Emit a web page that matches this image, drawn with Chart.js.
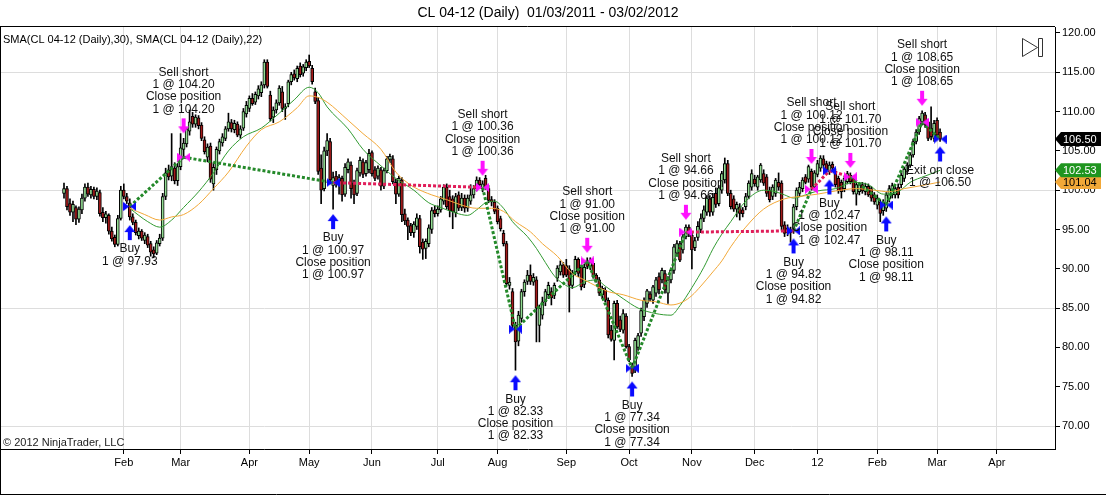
<!DOCTYPE html>
<html>
<head>
<meta charset="utf-8">
<title>CL 04-12 (Daily)</title>
<script src="https://cdn.jsdelivr.net/npm/chart.js@4.4.0/dist/chart.umd.min.js"></script>
<style>
  html, body { margin: 0; padding: 0; background: #fff; }
  #wrap { width: 1106px; height: 495px; }
</style>
</head>
<body>
<div id="wrap"><canvas id="chart" width="1106" height="495"></canvas></div>
<script>
// CL 04-12 daily bars, index 0 = 01/03/2011, last = 03/02/2012
const opens = [
  99.6,100.2,98.3,97.2,97.8,96.3,97.5,99.0,100.4,99.4,
  100.1,99.2,99.7,97.2,96.5,96.8,94.8,94.0,93.1,96.4,
  100.0,99.2,98.4,96.6,95.9,94.2,94.8,93.6,94.1,93.2,
  92.4,92.0,93.2,93.9,99.2,102.6,101.8,102.8,101.2,103.0,
  105.2,105.9,107.5,109.4,108.4,109.2,108.3,106.4,104.2,105.6,
  100.8,102.6,105.0,106.0,106.6,107.8,108.6,107.7,108.4,107.0,
  107.9,109.7,110.4,111.7,111.2,112.0,112.4,113.4,116.3,112.1,
  109.3,110.2,111.1,112.5,110.4,111.0,113.8,114.8,114.2,115.8,
  114.9,115.6,116.4,115.5,112.5,111.4,102.8,100.2,105.0,106.2,
  100.6,101.8,100.9,101.5,99.5,102.6,103.2,100.9,99.6,102.2,
  103.6,102.1,102.6,104.8,102.6,101.8,102.6,100.5,102.5,103.9,
  104.0,101.0,99.5,101.3,97.0,96.2,95.5,94.6,95.4,96.4,
  93.4,92.6,93.2,95.0,97.5,97.0,97.5,98.6,100.4,99.2,
  98.9,97.1,99.4,97.8,99.0,97.7,98.6,99.4,100.2,101.3,
  100.2,101.5,100.2,98.8,98.5,97.7,96.4,94.5,93.2,87.9,
  87.1,82.8,80.8,83.7,87.1,88.4,89.2,88.3,88.6,82.8,
  84.1,85.8,86.7,87.1,86.6,88.8,89.6,90.5,90.4,90.0,
  87.9,89.6,91.2,90.2,88.0,91.0,90.3,90.7,89.2,88.6,
  86.7,87.3,86.0,82.2,80.9,85.6,83.5,82.2,84.0,80.1,
  77.6,77.5,80.0,81.8,83.9,85.6,86.8,86.0,86.9,89.0,
  88.6,89.4,86.9,88.6,89.8,92.0,93.2,92.4,94.1,95.3,
  94.3,92.7,94.0,95.0,96.4,97.2,98.9,97.2,99.6,98.3,
  100.0,101.3,103.4,99.6,98.9,97.6,97.9,97.5,97.9,99.2,
  100.4,101.4,100.4,101.3,102.1,101.7,100.0,99.2,99.6,101.0,
  100.9,95.6,94.6,95.0,94.9,97.9,99.6,100.2,101.7,101.4,
  102.4,100.4,102.0,102.8,104.0,103.4,102.4,103.3,102.4,101.5,
  101.0,100.2,101.1,101.9,101.5,99.5,99.8,100.7,99.8,100.5,
  100.2,99.4,98.1,98.5,97.4,97.7,98.9,99.4,99.4,100.4,
  100.7,101.5,102.4,103.2,104.5,106.2,107.4,108.7,109.6,108.7,
  107.9,106.6,108.9,107.4
];
const highs = [
  100.9,100.5,98.9,98.6,98.0,97.9,99.5,100.8,100.9,100.5,
  100.4,100.3,100.0,97.8,97.3,97.0,95.3,94.3,96.8,100.5,
  100.8,99.6,98.9,97.0,96.2,95.2,95.0,94.6,94.4,93.5,
  92.8,93.6,94.4,99.6,102.8,103.2,107.2,103.5,103.4,107.2,
  106.6,108.0,110.2,109.9,109.6,109.5,108.6,106.8,105.9,106.0,
  103.5,105.5,106.5,107.2,108.1,109.8,109.0,108.9,108.7,108.2,
  110.4,111.3,112.0,112.3,112.5,113.3,113.8,116.6,116.6,112.6,
  110.6,111.5,113.3,113.2,111.0,114.0,115.0,115.3,115.8,116.2,
  116.0,116.6,117.2,115.9,113.0,111.8,104.5,105.5,107.2,106.6,
  102.3,102.4,102.0,101.8,103.4,104.0,103.6,101.3,102.8,104.2,
  104.0,103.8,105.2,105.0,103.0,103.1,102.9,102.8,104.3,104.6,
  104.4,101.4,101.8,101.6,97.6,96.5,95.8,96.0,97.0,96.8,
  93.8,93.8,95.6,97.8,98.0,98.0,99.2,100.7,100.8,100.0,
  99.3,99.6,99.8,99.6,99.4,99.4,100.7,100.6,101.7,101.6,
  101.2,101.9,100.6,99.2,98.8,98.0,96.7,94.9,93.5,88.9,
  87.5,83.2,84.6,87.4,88.6,89.8,90.5,89.4,89.0,85.4,
  86.4,87.4,88.3,87.6,88.2,90.4,91.0,90.8,91.2,90.4,
  89.8,91.6,91.4,90.5,90.6,91.4,91.4,91.0,89.4,88.9,
  87.8,87.6,86.3,82.8,85.9,86.0,84.0,84.8,84.3,80.4,
  78.0,81.2,81.8,85.0,86.3,87.4,87.1,87.9,88.9,89.5,
  90.1,89.8,89.0,90.1,93.1,93.6,93.5,94.4,95.6,95.6,
  94.6,94.0,96.0,97.0,98.0,99.3,99.3,99.6,100.3,100.6,
  102.4,104.1,103.8,100.0,99.3,98.5,98.3,97.8,99.6,101.2,
  102.6,101.9,101.9,103.4,102.6,102.0,100.4,100.7,101.5,102.2,
  101.2,96.0,95.6,95.3,98.2,100.3,101.0,101.6,102.0,103.2,
  102.7,102.5,103.8,104.4,104.4,103.7,103.6,103.6,102.7,101.8,
  101.3,101.8,102.4,102.2,101.8,101.0,101.0,101.0,100.9,100.8,
  100.5,99.7,99.4,98.8,98.8,99.7,100.6,100.9,100.5,100.8,
  102.2,102.9,103.5,104.8,106.5,107.7,109.4,110.1,109.9,109.0,
  110.6,108.9,109.2,107.8
];
const lows = [
  99.0,97.5,96.8,96.0,95.6,95.9,97.0,98.6,99.2,99.0,
  98.9,98.8,96.7,96.0,95.8,94.4,93.5,92.8,92.9,96.2,
  98.9,98.3,96.2,95.6,94.3,93.8,93.6,93.2,92.7,91.6,
  91.4,91.8,92.9,93.6,98.8,101.3,101.2,100.8,100.6,102.6,
  104.3,105.5,107.0,108.0,108.0,107.8,106.3,104.6,103.6,101.0,
  100.0,102.0,104.6,105.6,106.3,107.5,107.4,107.3,106.8,106.6,
  107.6,109.3,110.0,110.8,110.9,111.6,111.9,113.0,113.0,108.8,
  108.6,109.8,110.8,110.0,109.0,110.6,113.4,114.0,113.8,114.4,
  114.5,115.2,115.6,113.5,111.0,102.0,98.3,99.9,104.4,100.8,
  97.6,100.4,99.5,98.6,99.2,102.2,99.0,98.3,99.3,101.8,
  101.6,101.8,102.2,101.8,101.2,101.4,100.0,100.2,102.2,103.5,
  100.8,98.3,99.2,96.0,95.6,93.7,94.2,94.0,95.0,92.0,
  91.2,91.3,92.8,94.5,96.6,96.7,97.2,98.2,97.6,96.6,
  95.1,96.6,97.4,97.4,97.2,97.3,98.2,99.0,99.9,100.4,
  99.8,100.1,98.4,98.0,97.0,95.7,94.8,92.9,87.8,87.4,
  82.4,77.1,80.2,83.2,86.5,88.0,88.0,87.9,80.7,80.7,
  83.6,85.3,86.2,85.4,86.2,88.4,89.2,88.9,89.0,84.5,
  87.5,89.2,89.0,87.3,87.6,90.0,89.9,88.8,88.3,86.6,
  86.2,85.8,81.2,80.8,78.4,82.4,82.0,81.8,79.9,78.2,
  76.3,76.8,79.6,81.4,83.4,85.1,85.9,85.6,86.5,86.8,
  88.2,86.9,85.6,88.2,89.4,91.7,90.9,92.0,93.8,94.1,
  90.0,92.3,93.6,94.6,96.0,96.8,96.7,96.8,97.8,98.0,
  99.6,100.9,99.3,97.6,97.3,96.6,96.2,96.6,97.5,98.9,
  100.0,100.5,100.0,101.0,100.6,99.2,98.5,98.8,99.2,100.0,
  94.9,94.1,94.2,93.4,94.5,97.5,99.2,99.8,100.8,101.0,
  100.0,100.0,101.7,102.4,102.8,102.2,102.0,102.4,100.4,99.6,
  99.0,99.8,100.8,100.8,99.5,98.1,99.4,99.6,99.4,99.2,
  98.6,98.2,97.6,96.0,96.8,97.3,98.5,99.0,99.0,99.0,
  100.3,101.1,102.0,102.9,104.2,105.9,107.1,108.3,108.0,106.3,
  106.4,106.2,106.6,106.2
];
const closes = [
  100.2,97.9,97.2,98.2,96.3,97.6,99.0,100.4,99.5,100.1,
  99.2,99.9,97.0,96.5,97.0,94.8,93.8,93.1,96.4,100.0,
  99.2,98.6,96.6,95.9,94.6,94.8,93.9,94.3,93.0,92.1,
  91.9,93.3,93.9,99.2,102.2,101.7,103.0,101.2,103.0,105.4,
  106.0,107.8,108.7,108.4,109.3,108.2,106.6,104.9,105.5,101.4,
  102.9,105.2,106.2,106.8,107.8,108.7,107.8,108.5,107.0,107.8,
  110.0,110.8,111.7,111.0,112.2,112.9,113.4,116.3,113.2,109.1,
  110.2,111.1,113.0,110.4,110.6,113.8,114.7,114.3,115.5,114.7,
  115.7,116.3,115.8,113.8,111.3,102.4,100.0,105.0,106.3,101.3,
  101.6,100.9,101.6,99.4,102.9,103.6,100.2,99.4,102.5,103.8,
  102.0,103.5,104.7,102.1,101.5,102.8,100.5,102.5,104.0,104.3,
  101.1,99.5,101.5,96.9,96.1,95.4,94.6,95.7,96.5,92.8,
  92.5,93.5,95.2,97.4,97.0,97.6,98.9,100.4,97.9,97.4,
  97.3,99.2,97.7,99.0,97.7,99.0,99.4,100.2,101.3,100.7,
  100.8,100.4,98.7,98.5,97.3,96.0,95.1,93.2,88.1,88.3,
  82.8,80.7,84.1,87.1,88.3,89.2,88.4,88.9,85.0,85.0,
  85.8,87.1,87.9,86.3,87.9,90.1,90.5,89.2,89.2,87.9,
  89.4,91.2,89.4,87.7,90.2,90.3,90.9,89.0,88.6,86.9,
  87.5,86.0,81.6,81.0,85.6,82.6,82.3,84.3,80.1,78.4,
  76.7,80.9,81.5,84.7,86.0,87.2,86.2,87.7,88.6,87.3,
  89.8,87.3,88.6,89.8,92.8,93.2,91.1,94.1,95.3,94.5,
  92.4,93.6,95.4,96.4,97.5,99.0,97.2,99.1,98.2,100.3,
  102.1,103.4,99.6,97.9,97.6,98.2,97.05,97.0,99.2,100.9,
  102.1,100.8,101.7,103.2,100.9,99.6,98.8,100.4,101.3,100.4,
  95.4,94.5,95.2,94.6,97.9,100.0,100.4,101.3,101.0,103.0,
  100.4,102.2,103.4,104.1,103.2,102.6,103.2,102.8,100.7,99.9,
  99.8,101.5,102.1,101.1,99.8,100.7,100.7,99.9,100.5,99.4,
  99.0,98.5,99.0,97.05,98.5,99.4,100.2,100.6,100.2,99.4,
  101.9,102.7,103.2,104.5,106.2,107.4,109.1,109.8,108.3,106.6,
  106.8,108.5,107.0,106.5
];

// SMA(30) orange and SMA(22) green at these bars
const smaSlowBars = [22,27,32,36,40,45,50,55,61,66,72,78,82,85,88,95,100,106,111,114,117,123,128,133,138,143,147,151,156,160,165,170,174,178,182,187,193,198,203,207,210,213,217,220,223,228,234,241,246,252,258,265,271,276,281,287,293];
const smaSlowValues = [97.7,96.9,96.2,96.6,96.9,98.2,100.2,102.3,105.6,107.7,108.7,110.5,112.0,111.8,111.2,108.9,107.2,105.2,102.3,101.2,100.4,99.4,98.8,98.1,97.7,97.7,97.3,96.0,94.7,93.2,91.6,89.4,88.6,87.8,87.1,86.7,86.0,85.8,85.4,85.8,86.6,87.8,89.6,91.0,92.8,95.3,97.6,98.9,99.2,99.5,99.9,100.2,100.0,99.8,100.2,100.6,101.04];
const smaFastBars = [22,25,28,32,36,40,45,50,55,60,66,72,77,82,85,88,95,100,106,111,117,122,126,131,135,138,141,144,147,150,155,158,161,164,167,170,174,178,181,187,192,198,203,206,210,214,217,220,223,228,234,238,241,244,248,252,258,264,269,274,279,283,288,293];
const smaFastValues = [97.7,96.8,96.0,95.3,96.2,97.8,99.8,102.2,105.0,106.8,107.9,109.8,111.5,113.1,112.4,110.6,107.8,105.2,103.1,101.5,100.0,98.4,97.8,97.1,96.8,97.5,98.4,98.6,97.7,96.0,94.1,92.6,90.8,89.1,88.1,87.6,88.3,88.6,87.8,86.2,85.0,84.3,84.1,85.3,87.6,90.2,92.5,94.4,96.0,98.6,100.0,99.8,99.4,99.0,99.4,99.9,100.2,101.0,100.7,99.5,99.8,101.0,101.8,102.53];

// month ticks on the bar axis
const monthTickBars = [20,39,62,82,103,125,145,168,189,210,231,252,272,292,312];
const monthTickLabels = ['Feb','Mar','Apr','May','Jun','Jul','Aug','Sep','Oct','Nov','Dec','12','Feb','Mar','Apr'];
const priceTicks = [70,75,80,85,90,95,100,105,110,115,120];
const gridPrices = [70,85,100,115];

// executions
const tradeBars = [22,40,90,140,151,175,190,208,244,250,256,263,275,287,293];
const tradePrices = [97.93,104.20,100.97,100.36,82.33,91.00,77.34,94.66,94.82,100.12,102.47,101.70,98.11,108.65,106.50];
const tradeSides = ['buy','sell','buy','sell','buy','sell','buy','sell','buy','sell','buy','sell','buy','sell','buy'];

const UP_COLOR = '#92dc92';
const DOWN_COLOR = '#a31a1a';
const FAST_COLOR = '#319a31';
const SLOW_COLOR = '#f2a838';
const BUY_COLOR = '#0a0aff';
const SELL_COLOR = '#ff10ff';
const WIN_COLOR = '#24892a';
const LOSS_COLOR = '#e01e5a';

function tradeText(i) {
  const p = '1 @ ' + tradePrices[i].toFixed(2);
  if (i === 0) return ['Buy', p];
  if (i === tradeBars.length - 1) return ['Exit on close', p];
  return [tradeSides[i] === 'buy' ? 'Buy' : 'Sell short', p, 'Close position', p];
}

// arrow drawn away from the anchor (bar low / high)
function arrowStyle(color, up) {
  const c = document.createElement('canvas');
  c.width = 12;
  c.height = 46;
  const g = c.getContext('2d');
  g.fillStyle = color;
  g.beginPath();
  if (up) {
    const t = 28;
    g.moveTo(6, t); g.lineTo(11.5, t + 7); g.lineTo(8, t + 7); g.lineTo(8, t + 15);
    g.lineTo(4, t + 15); g.lineTo(4, t + 7); g.lineTo(0.5, t + 7);
  } else {
    const b = 18;
    g.moveTo(6, b); g.lineTo(11.5, b - 7); g.lineTo(8, b - 7); g.lineTo(8, b - 15);
    g.lineTo(4, b - 15); g.lineTo(4, b - 7); g.lineTo(0.5, b - 7);
  }
  g.closePath();
  g.fill();
  return c;
}

function bowtieStyle(color) {
  const c = document.createElement('canvas');
  c.width = 13;
  c.height = 9;
  const g = c.getContext('2d');
  g.fillStyle = color;
  g.beginPath();
  g.moveTo(0, 0); g.lineTo(6, 4.5); g.lineTo(0, 9); g.closePath();
  g.moveTo(13, 0); g.lineTo(7, 4.5); g.lineTo(13, 9); g.closePath();
  g.fill();
  return c;
}

const buyArrow = arrowStyle(BUY_COLOR, true);
const sellArrow = arrowStyle(SELL_COLOR, false);
const buyTie = bowtieStyle(BUY_COLOR);
const sellTie = bowtieStyle(SELL_COLOR);

const wickData = highs.map((h, i) => ({ x: i, y: [lows[i], h] }));
const bodyData = opens.map((o, i) => ({ x: i, y: [o, closes[i]] }));

const datasets = [];
datasets.push({
  type: 'bar', label: 'wick', data: wickData, order: 6, grouped: false,
  barThickness: 1, backgroundColor: '#000', borderWidth: 0
});
datasets.push({
  type: 'bar', label: 'body', data: bodyData, order: 5, grouped: false,
  barThickness: 3, borderWidth: 1, borderColor: '#000', borderSkipped: false,
  backgroundColor: (ctx) => closes[ctx.dataIndex] >= opens[ctx.dataIndex] ? UP_COLOR : DOWN_COLOR
});
datasets.push({
  type: 'line', label: 'SMA 30', order: 4,
  data: smaSlowBars.map((b, i) => ({ x: b, y: smaSlowValues[i] })),
  borderColor: SLOW_COLOR, borderWidth: 1, pointRadius: 0, cubicInterpolationMode: 'monotone'
});
datasets.push({
  type: 'line', label: 'SMA 22', order: 4,
  data: smaFastBars.map((b, i) => ({ x: b, y: smaFastValues[i] })),
  borderColor: FAST_COLOR, borderWidth: 1, pointRadius: 0, cubicInterpolationMode: 'monotone'
});

// dotted lines between consecutive fills, green when the trade made money
for (let i = 0; i < tradeBars.length - 1; i++) {
  const diff = tradePrices[i + 1] - tradePrices[i];
  const win = tradeSides[i] === 'buy' ? diff > 0 : diff < 0;
  datasets.push({
    type: 'line', label: 'trade ' + i, order: 3,
    data: [{ x: tradeBars[i], y: tradePrices[i] }, { x: tradeBars[i + 1], y: tradePrices[i + 1] }],
    borderColor: win ? WIN_COLOR : LOSS_COLOR, borderWidth: 3, borderDash: [3, 2],
    pointRadius: 0, borderCapStyle: 'butt'
  });
}

datasets.push({
  type: 'scatter', label: 'fills', order: 2,
  data: tradeBars.map((b, i) => ({ x: b, y: tradePrices[i] })),
  pointStyle: tradeSides.map((s) => s === 'buy' ? buyTie : sellTie),
  pointRadius: 5
});
datasets.push({
  type: 'scatter', label: 'arrows', order: 1,
  data: tradeBars.map((b, i) => ({ x: b, y: tradeSides[i] === 'buy' ? lows[b] : highs[b] })),
  pointStyle: tradeSides.map((s) => s === 'buy' ? buyArrow : sellArrow),
  pointRadius: 5
});

const FONT = 'Arial, "Liberation Sans", sans-serif';

const decorations = {
  id: 'decorations',
  afterDatasetsDraw(chart) {
    const { ctx, chartArea, scales } = chart;
    ctx.save();
    ctx.beginPath();
    ctx.rect(chartArea.left, chartArea.top, chartArea.right - chartArea.left, chartArea.bottom - chartArea.top);
    ctx.clip();
    ctx.font = '12px ' + FONT;
    ctx.fillStyle = '#111';
    ctx.textAlign = 'center';
    const lh = 12.3;
    tradeBars.forEach((b, i) => {
      const x = scales.x.getPixelForValue(b);
      const lines = tradeText(i);
      if (tradeSides[i] === 'buy') {
        const top = scales.y.getPixelForValue(lows[b]) + 23;
        ctx.textBaseline = 'top';
        lines.forEach((t, k) => ctx.fillText(t, x, top + k * lh));
      } else {
        const bottom = scales.y.getPixelForValue(highs[b]) - 23;
        ctx.textBaseline = 'bottom';
        lines.slice().reverse().forEach((t, k) => ctx.fillText(t, x, bottom - k * lh));
      }
    });
    ctx.restore();
  },
  afterDraw(chart) {
    const { ctx, chartArea, scales } = chart;
    ctx.save();
    // title
    ctx.fillStyle = '#000';
    ctx.font = '14px ' + FONT;
    ctx.textAlign = 'center';
    ctx.textBaseline = 'middle';
    ctx.fillText('CL 04-12 (Daily)  01/03/2011 - 03/02/2012', 548, 13);
    // indicator legend and copyright
    ctx.font = '11px ' + FONT;
    ctx.textAlign = 'left';
    ctx.fillText('SMA(CL 04-12 (Daily),30), SMA(CL 04-12 (Daily),22)', 3, 40);
    ctx.fillStyle = '#222';
    ctx.fillText('\u00A9 2012 NinjaTrader, LLC', 3, 443);

    // frame
    ctx.strokeStyle = '#000';
    ctx.lineWidth = 1;
    ctx.beginPath();
    ctx.moveTo(0, chartArea.top - 0.5); ctx.lineTo(chartArea.right, chartArea.top - 0.5);
    ctx.moveTo(0.5, chartArea.top - 0.5); ctx.lineTo(0.5, 494.5);
    ctx.moveTo(0, 494.5); ctx.lineTo(1106, 494.5);
    ctx.stroke();

    // "scroll to end" icon
    ctx.strokeStyle = '#333';
    ctx.beginPath();
    ctx.moveTo(1022.5, 38.5); ctx.lineTo(1022.5, 56.5); ctx.lineTo(1037.5, 47.5); ctx.closePath();
    ctx.rect(1038.5, 38.5, 4, 18);
    ctx.stroke();

    // last-value flags on the price axis
    const flags = [
      { v: smaSlowValues[smaSlowValues.length - 1], bg: SLOW_COLOR, fg: '#000' },
      { v: smaFastValues[smaFastValues.length - 1], bg: '#1f951f', fg: '#fff' },
      { v: closes[closes.length - 1], bg: '#000', fg: '#fff' }
    ];
    const x0 = chartArea.right;
    ctx.font = '11px ' + FONT;
    ctx.textBaseline = 'middle';
    flags.forEach((f) => {
      const y = scales.y.getPixelForValue(f.v);
      ctx.fillStyle = f.bg;
      ctx.beginPath();
      ctx.moveTo(x0, y);
      ctx.lineTo(x0 + 6, y - 7);
      ctx.lineTo(x0 + 46, y - 7);
      ctx.lineTo(x0 + 46, y + 7);
      ctx.lineTo(x0 + 6, y + 7);
      ctx.closePath();
      ctx.fill();
      ctx.fillStyle = f.fg;
      ctx.fillText(f.v.toFixed(2), x0 + 8, y + 0.5);
    });
    ctx.restore();
  }
};

new Chart(document.getElementById('chart'), {
  type: 'bar',
  data: { datasets: datasets },
  options: {
    responsive: false,
    animation: false,
    devicePixelRatio: 1,
    events: [],
    layout: { autoPadding: false, padding: { top: 27, left: 1, right: 0, bottom: 0 } },
    plugins: {
      legend: { display: false },
      tooltip: { enabled: false },
      title: { display: false }
    },
    scales: {
      x: {
        type: 'linear',
        min: -21.07,
        max: 331.44,
        offset: false,
        afterBuildTicks: (axis) => { axis.ticks = monthTickBars.map((v) => ({ value: v })); },
        afterFit: (axis) => { axis.height = 46; axis.paddingLeft = 0; axis.paddingRight = 0; },
        ticks: {
          autoSkip: false,
          maxRotation: 0,
          padding: 2,
          color: '#000',
          font: { family: FONT, size: 11 },
          callback: (value) => {
            const k = monthTickBars.indexOf(value);
            return k >= 0 ? monthTickLabels[k] : '';
          }
        },
        grid: { offset: false, color: '#dddddd', tickColor: '#000', tickLength: 5 },
        border: { display: true, color: '#000' }
      },
      y: {
        type: 'linear',
        position: 'right',
        min: 67.074,
        max: 120.763,
        afterBuildTicks: (axis) => { axis.ticks = priceTicks.map((v) => ({ value: v })); },
        afterFit: (axis) => { axis.width = 51; axis.paddingTop = 0; axis.paddingBottom = 0; },
        ticks: {
          padding: 2,
          color: '#000',
          font: { family: FONT, size: 11 },
          callback: (value) => value.toFixed(2)
        },
        grid: {
          color: (ctx) => (ctx.tick && gridPrices.includes(ctx.tick.value)) ? '#dddddd' : 'rgba(0,0,0,0)',
          tickColor: '#000',
          tickLength: 5
        },
        border: { display: true, color: '#000' }
      }
    }
  },
  plugins: [decorations]
});
</script>
</body>
</html>
